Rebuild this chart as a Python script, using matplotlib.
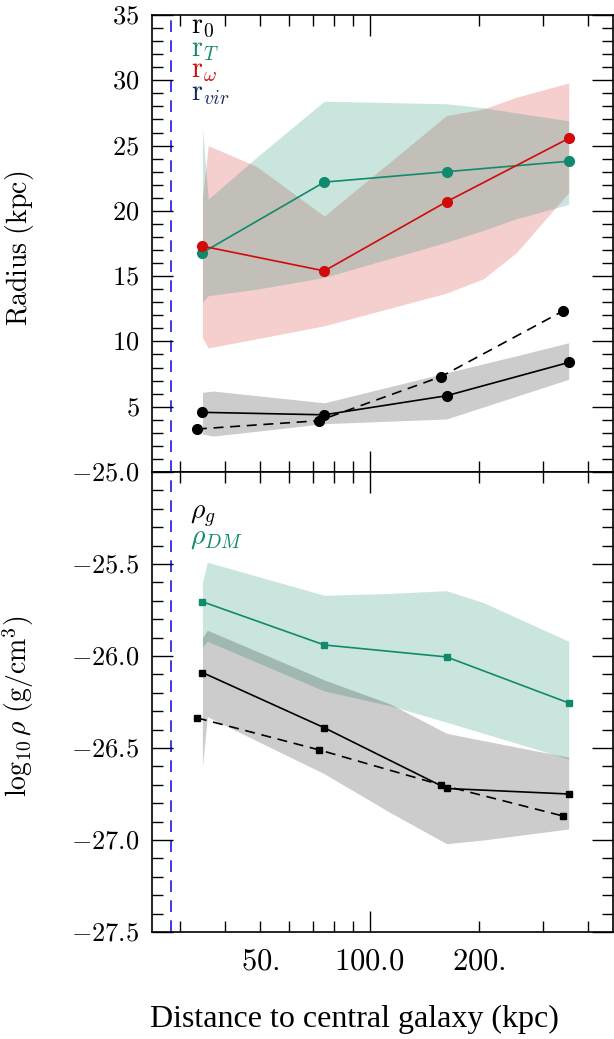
import matplotlib
matplotlib.use('Agg')
import matplotlib.pyplot as plt
from matplotlib.ticker import FixedLocator, FixedFormatter, MultipleLocator, FuncFormatter, NullFormatter

plt.rcParams['mathtext.fontset'] = 'cm'
plt.rcParams['font.family'] = ['Liberation Serif', 'DejaVu Serif']

# ---------------- data ----------------
x_pts = [34.6, 75.0, 163.0, 354.0]
x_pts_dash = [33.4, 72.5, 157.0, 342.0]
r_vir_x = 28.3

r0_solid = [4.57, 4.38, 5.84, 8.39]
r0_dash = [3.29, 3.93, 7.29, 12.34]
rT = [16.8, 22.2, 23.0, 23.8]
rw = [17.3, 15.4, 20.7, 25.55]

band_x_top = [34.6, 35.9, 48.8, 75.0, 163.0, 206.0, 254.0, 354.0]
rT_hi = [26.4, 20.9, 24.1, 28.4, 28.2, 27.9, 27.5, 26.9]
rT_lo = [13.0, 13.5, 14.0, 14.9, 17.6, 18.5, 19.4, 20.5]
rw_hi = [21.0, 25.0, 23.4, 19.6, 27.3, 27.8, 28.7, 29.8]
rw_lo = [10.3, 9.5, 10.2, 11.2, 13.7, 14.8, 16.8, 21.4]

band_x_r0 = [34.6, 37.1, 75.0, 163.0, 254.0, 354.0]
r0_hi = [6.1, 6.2, 5.3, 7.6, 8.9, 9.9]
r0_lo = [2.9, 2.75, 3.7, 4.06, 5.8, 7.1]

rho_g_solid = [-26.09, -26.39, -26.72, -26.75]
rho_g_dash = [-26.336, -26.51, -26.70, -26.87]
rho_dm = [-25.705, -25.94, -26.005, -26.255]

band_x_bot = [34.6, 35.7, 75.0, 113.8, 163.0, 206.0, 354.0]
dm_hi = [-25.60, -25.49, -25.67, -25.66, -25.645, -25.71, -25.92]
dm_lo = [-25.95, -25.92, -26.19, -26.27, -26.36, -26.42, -26.56]
g_hi = [-25.90, -25.86, -26.13, -26.26, -26.42, -26.46, -26.55]
g_lo = [-26.60, -26.33, -26.64, -26.85, -27.02, -27.00, -26.94]

top_labels = [r'$\mathrm{r}_0$', r'$\mathrm{r}_T$', r'$\mathrm{r}_\omega$', r'$\mathrm{r}_{vir}$']
bot_labels = [r'$\rho_g$', r'$\rho_{DM}$']
x_minor_ticks = [30, 40, 50, 60, 70, 80, 90, 200, 300, 400]
x_minor_labels = {50: r'$50.$', 200: r'$200.$'}
x_major_ticks = [100]
x_major_labels = [r'$100.0$']

# ---------------- style ----------------
C_GREEN = '#0f8a6c'
C_RED = '#d10a0a'
C_NAVY = '#12285e'
C_BLUE = '#1a1ae6'

W, H = 614, 1039
fig = plt.figure(figsize=(W / 100, H / 100), dpi=100)
left, right = 152, 613
top1, mid, bot2 = 15, 472, 932
ax1 = fig.add_axes([left / W, 1 - mid / H, (right - left) / W, (mid - top1) / H])
ax2 = fig.add_axes([left / W, 1 - bot2 / H, (right - left) / W, (bot2 - mid) / H])

for ax in (ax1, ax2):
    ax.set_xscale('log')
    ax.set_xlim(25.12, 469)
    ax.xaxis.set_major_locator(FixedLocator(x_major_ticks))
    ax.xaxis.set_minor_locator(FixedLocator(x_minor_ticks))
    ax.tick_params(which='both', direction='in', top=True, right=True, width=1.0)
    ax.tick_params(which='major', length=15)
    ax.tick_params(which='minor', length=8)
    ax.tick_params(axis='y', which='both', labelsize=19, pad=9)
    ax.tick_params(axis='x', which='both', labelsize=22, pad=11)
    ax.axvline(r_vir_x, color=C_BLUE, lw=1.2, ls=(0, (7, 5)), zorder=1)
    for s in ax.spines.values():
        s.set_linewidth(1.2)

ax1.xaxis.set_major_formatter(NullFormatter())
ax1.xaxis.set_minor_formatter(NullFormatter())
ax2.xaxis.set_major_formatter(FixedFormatter(x_major_labels))
ax2.xaxis.set_minor_formatter(FuncFormatter(lambda v, p: x_minor_labels.get(int(round(v)), '')))

# top panel
ax1.set_ylim(0, 35)
ax1.yaxis.set_major_locator(MultipleLocator(5))
ax1.yaxis.set_minor_locator(MultipleLocator(1))
ax1.yaxis.set_major_formatter(FuncFormatter(lambda v, p: '' if abs(v) < 1e-9 else r'$%d$' % round(v)))

ax1.fill_between(band_x_top, rw_lo, rw_hi, color=C_RED, alpha=0.2, lw=0, zorder=2)
ax1.fill_between(band_x_top, rT_lo, rT_hi, color=C_GREEN, alpha=0.22, lw=0, zorder=2)
ax1.fill_between(band_x_r0, r0_lo, r0_hi, color='k', alpha=0.2, lw=0, zorder=2)

ax1.plot(x_pts, r0_solid, '-o', color='k', lw=1.2, ms=7, zorder=4)
ax1.plot(x_pts_dash, r0_dash, 'o', color='k', ms=7, zorder=4)
ax1.plot(x_pts_dash, r0_dash, color='k', lw=1.2, ls=(0, (6, 4)), zorder=4)
ax1.plot(x_pts, rT, '-o', color=C_GREEN, lw=1.2, ms=7, zorder=4)
ax1.plot(x_pts, rw, '-o', color=C_RED, lw=1.2, ms=7, zorder=4)

top_cols = ['k', C_GREEN, C_RED, C_NAVY]
top_y = [0.9607, 0.9105, 0.8646, 0.8144]
for lab, col, yy in zip(top_labels, top_cols, top_y):
    ax1.text(0.084, yy, lab, color=col, fontsize=20, va='baseline', ha='left',
             transform=ax1.transAxes)

ax1.set_ylabel(r'$\mathrm{Radius\ (kpc)}$', fontsize=20)
ax1.yaxis.set_label_coords(-0.252, 0.49)

# bottom panel
ax2.set_ylim(-27.5, -25.0)
ax2.yaxis.set_major_locator(MultipleLocator(0.5))
ax2.yaxis.set_minor_locator(MultipleLocator(0.1))
ax2.yaxis.set_major_formatter(FuncFormatter(lambda v, p: r'$%.1f$' % v))

ax2.fill_between(band_x_bot, dm_lo, dm_hi, color=C_GREEN, alpha=0.22, lw=0, zorder=2)
ax2.fill_between(band_x_bot, g_lo, g_hi, color='k', alpha=0.2, lw=0, zorder=2)

ax2.plot(x_pts, rho_dm, '-s', color=C_GREEN, lw=1.2, ms=4.5, zorder=4)
ax2.plot(x_pts, rho_g_solid, '-s', color='k', lw=1.2, ms=5, zorder=4)
ax2.plot(x_pts_dash, rho_g_dash, 's', color='k', ms=5, zorder=4)
ax2.plot(x_pts_dash, rho_g_dash, color='k', lw=1.2, ls=(0, (6, 4)), zorder=4)

bot_cols = ['k', C_GREEN]
bot_y = [0.898, 0.844]
for lab, col, yy in zip(bot_labels, bot_cols, bot_y):
    ax2.text(0.082, yy, lab, color=col, fontsize=20, va='baseline', ha='left',
             transform=ax2.transAxes)

ax2.set_ylabel(r'$\mathrm{log}_{10}\,\rho\ \mathrm{(g/cm^3)}$', fontsize=20)
ax2.yaxis.set_label_coords(-0.252, 0.49)

fig.text(0.578, 1 - 1027 / H, 'Distance to central galaxy (kpc)', fontsize=23,
         ha='center', va='baseline')

fig.savefig('out.png', dpi=100)
